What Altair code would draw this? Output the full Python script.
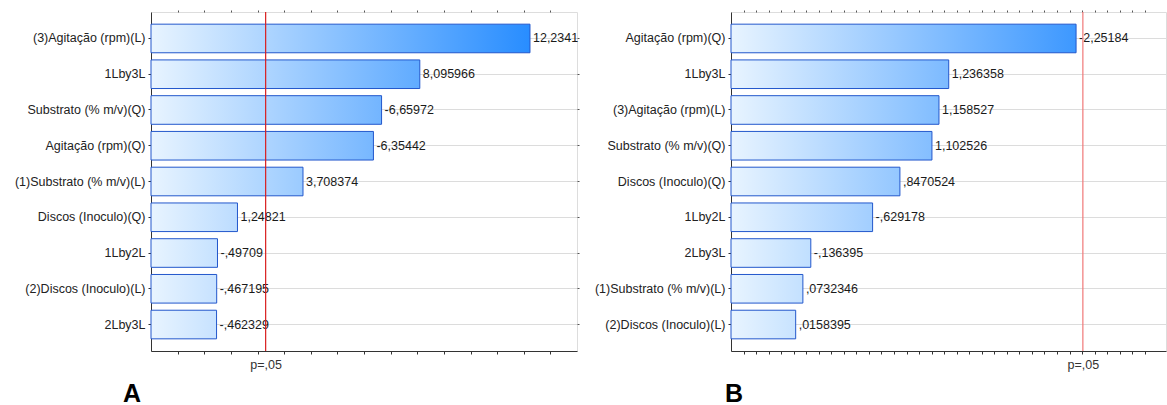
import altair as alt

# ---- data -------------------------------------------------------------
a_terms = ["(3)Agitação (rpm)(L)", "1Lby3L", "Substrato (% m/v)(Q)", "Agitação (rpm)(Q)",
           "(1)Substrato (% m/v)(L)", "Discos (Inoculo)(Q)", "1Lby2L",
           "(2)Discos (Inoculo)(L)", "2Lby3L"]
a_effects = [12.2341, 8.095966, -6.65972, -6.35442, 3.708374, 1.24821,
             -0.49709, -0.467195, -0.462329]

b_terms = ["Agitação (rpm)(Q)", "1Lby3L", "(3)Agitação (rpm)(L)", "Substrato (% m/v)(Q)",
           "Discos (Inoculo)(Q)", "1Lby2L", "2Lby3L", "(1)Substrato (% m/v)(L)",
           "(2)Discos (Inoculo)(L)"]
b_effects = [-2.25184, 1.236358, 1.158527, 1.102526, 0.8470524, -0.629178,
             -0.136395, 0.0732346, 0.0158395]

t_crit = 2.306
p_label = "p=,05"

a_ticks = [-1, 0, 1, 2, 3, 4, 5, 6, 7, 8, 9, 10, 11, 12, 13]
b_ticks = [round(-0.4 + 0.1 * i, 1) for i in range(34)]

# ---- styling helpers ---------------------------------------------------
FONT = "Liberation Sans"
FS = 12.5
C0 = (232, 244, 255)
C1 = (16, 128, 255)


def mix(f):
    f = max(0.0, min(1.0, f))
    r, g, b = (round(C0[i] + (C1[i] - C0[i]) * f) for i in range(3))
    return f"#{r:02x}{g:02x}{b:02x}"


def fmt(v):
    s = repr(v)
    if s.startswith("-0."):
        s = "-" + s[2:]
    elif s.startswith("0."):
        s = s[1:]
    return s.replace(".", ",")


def panel(terms, effects, domain, ticks, width, red, letter, letter_dx, right_ticks):
    recs = []
    for t, v in zip(terms, effects):
        a = abs(v)
        f = (a - domain[0]) / (domain[1] - domain[0])
        recs.append({
            "term": t,
            "abs": a,
            "label": fmt(v),
            "grad": {"gradient": "linear", "x1": 0, "y1": 0, "x2": 1, "y2": 0,
                     "stops": [{"offset": 0, "color": mix(0)},
                               {"offset": 1, "color": mix(f)}]},
        })
    data = alt.Data(values=recs)

    xscale = alt.Scale(domain=domain, nice=False, zero=False)
    yscale = alt.Scale(paddingInner=0.2, paddingOuter=0.34)
    y_left = alt.Y("term:N", sort=terms, scale=yscale,
                   axis=alt.Axis(orient="left", title=None, grid=True, gridColor="#dcdcdc",
                                 bandPosition=0.5, tickSize=3, tickColor="#333",
                                 domainColor="#333", labelFont=FONT, labelFontSize=FS,
                                 labelColor="#222", labelPadding=3))
    y_right = alt.Y("term:N", sort=terms,
                    axis=alt.Axis(orient="right", title=None, grid=False, labels=False,
                                  domain=False, bandPosition=0.5, ticks=right_ticks,
                                  tickSize=2, tickColor="#555"))
    x_bottom = alt.Axis(orient="bottom", title=None, values=ticks + [t_crit],
                        labelExpr=f"datum.value == {t_crit} ? '{p_label}' : ''",
                        grid=False, tickSize=3, tickColor="#333", domainColor="#333",
                        labelFont=FONT, labelFontSize=FS, labelColor="#333",
                        labelPadding=4, labelOverlap=False, labelFlush=False,
                        tickOpacity={"condition": {"test": f"datum.value == {t_crit}",
                                                   "value": 0},
                                     "value": 1})
    x_top = alt.Axis(orient="top", title=None, values=ticks, labels=False, grid=False,
                     domain=False, tickSize=2, tickColor="#555")

    bars = alt.Chart(data).mark_bar(stroke="#2257cc", strokeWidth=1).encode(
        x=alt.X("abs:Q", scale=xscale, axis=x_bottom),
        x2=alt.datum(domain[0]),
        y=y_left,
        fill=alt.Fill("grad:N", scale=None),
    )
    text = alt.Chart(data).mark_text(align="left", baseline="middle", dx=3,
                                     font=FONT, fontSize=FS, color="#1a1a1a").encode(
        x=alt.X("abs:Q", axis=x_top), y=y_right, text="label:N")
    rule = alt.Chart(alt.Data(values=[{"t": t_crit}])).mark_rule(
        color=red, strokeWidth=1.2).encode(x=alt.X("t:Q", axis=None))

    return alt.layer(bars, text, rule).properties(
        width=width, height=339,
        title=alt.TitleParams(letter, orient="bottom", anchor="start", frame="group",
                              dx=letter_dx, offset=11, fontSize=25, fontWeight="bold",
                              font=FONT, color="#000"),
    )


A = panel(a_terms, a_effects, [-2, 14], a_ticks, 426, "#d91e1e", "A", -28, True)
B = panel(b_terms, b_effects, [-0.5, 2.969], b_ticks[:-1], 435, "#f07878", "B", -6, False)

chart = alt.hconcat(A, B, spacing=13).properties(
    padding={"left": 13, "top": 9, "right": 0, "bottom": 0}
).configure_view(stroke="#808080", strokeWidth=1).configure(background="white")

chart.save("out.html", embed_options={"renderer": "svg", "actions": False})
